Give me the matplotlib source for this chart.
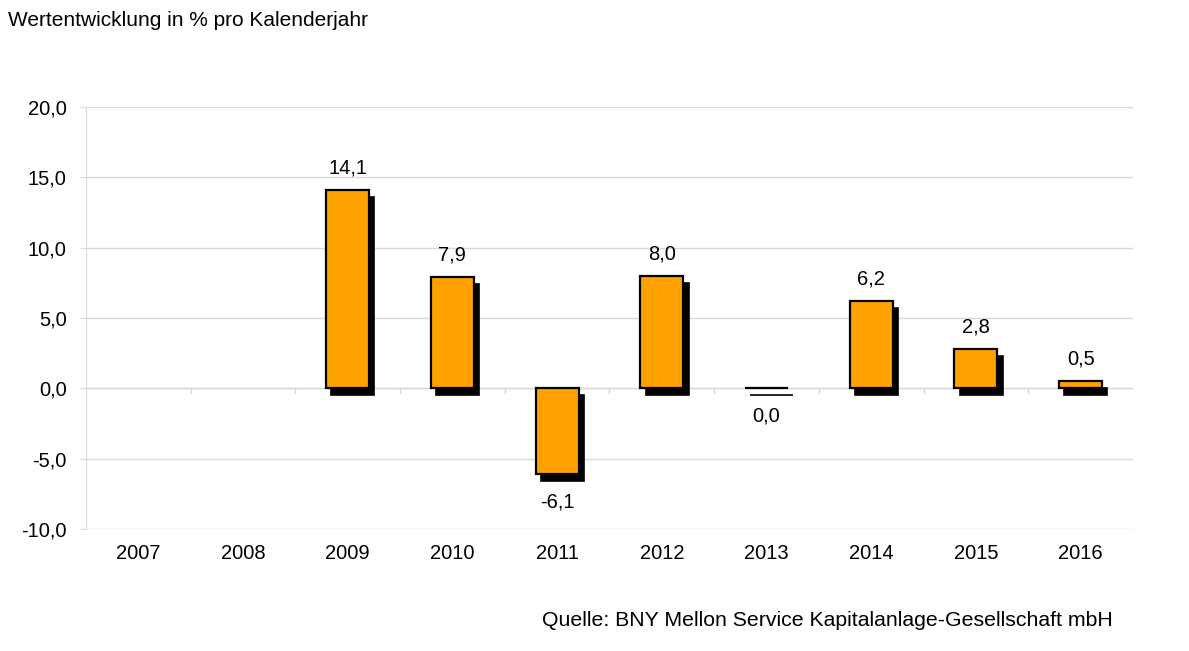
import numpy as np
import matplotlib.pyplot as plt

plt.rcParams['font.family'] = ['Liberation Sans', 'DejaVu Sans']

years = ['2007', '2008', '2009', '2010', '2011', '2012', '2013', '2014', '2015', '2016']
values = [np.nan, np.nan, 14.1, 7.9, -6.1, 8.0, 0.0, 6.2, 2.8, 0.5]
yticks = [-10, -5, 0, 5, 10, 15, 20]

bar_color = '#FFA200'
grid_color = '#D9D9D9'
fs = 14.5

fig = plt.figure(figsize=(11.89, 6.51), dpi=100)
ax = fig.add_axes([0.0723, 0.1874, 0.8806, 0.6482])

x = np.arange(len(years))
vals = np.array(values, dtype=float)
mask = ~np.isnan(vals)
width = 0.41

# shadow bars behind the real ones
ax.bar(x[mask] + 0.05, vals[mask], width=width, bottom=-0.5, color='black',
       edgecolor='black', linewidth=1.2, zorder=2)
ax.bar(x[mask], vals[mask], width=width, color=bar_color, edgecolor='black',
       linewidth=1.6, zorder=3)

for xi, v in zip(x[mask], vals[mask]):
    if v > 0:
        ax.annotate(f'{v:.1f}'.replace('.', ','), (xi, v), xytext=(0, 9),
                    textcoords='offset points', ha='center', va='bottom', fontsize=fs)
    else:
        ax.annotate(f'{v:.1f}'.replace('.', ','), (xi, v - 0.5), xytext=(0, -8),
                    textcoords='offset points', ha='center', va='top', fontsize=fs)

ax.set_xlim(-0.5, len(years) - 0.5)
ax.set_ylim(-10, 20)
ax.set_yticks(yticks)
ax.set_yticklabels([f'{t:.1f}'.replace('.', ',') for t in yticks], fontsize=fs)
ax.yaxis.grid(True, color=grid_color, linewidth=1)
ax.set_axisbelow(True)
ax.tick_params(axis='y', length=4, color=grid_color, pad=10)

# category labels under the plot, boundary ticks on the zero line
ax.set_xticks(x)
ax.set_xticklabels(years, fontsize=fs)
ax.tick_params(axis='x', length=0, pad=11)
ax.axhline(0, color=grid_color, linewidth=1, zorder=1)
for b in np.arange(0.5, len(years) - 0.5, 1.0):
    ax.plot([b, b], [0, -0.35], color=grid_color, linewidth=1, zorder=1)

for s in ['top', 'right', 'bottom']:
    ax.spines[s].set_visible(False)
ax.spines['left'].set_color(grid_color)

fig.text(0.007, 0.969, 'Wertentwicklung in % pro Kalenderjahr', fontsize=15, va='center')
fig.text(0.936, 0.047, 'Quelle: BNY Mellon Service Kapitalanlage-Gesellschaft mbH',
         fontsize=15.3, ha='right', va='center')

fig.savefig('out.png', dpi=100)
